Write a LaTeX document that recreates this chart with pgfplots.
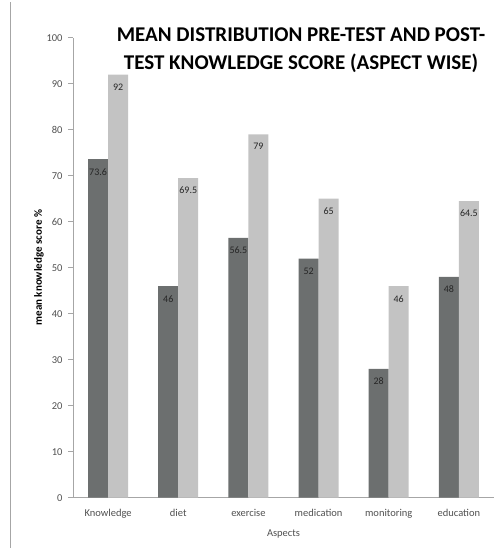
\documentclass[border=0pt]{standalone}
\usepackage{pgfplots}
\pgfplotsset{compat=1.18}
\usepackage{fontspec}
\setmainfont{Carlito}
\definecolor{darkbar}{HTML}{6C6F6F}
\definecolor{lightbar}{HTML}{C3C3C3}
\definecolor{axisgray}{HTML}{A6A6A6}
\definecolor{ticktext}{HTML}{505050}
\begin{document}
\begin{tikzpicture}[x=1pt,y=1pt]
\path[use as bounding box] (0,0) rectangle (494,550);
\draw[axisgray, line width=0.8pt] (10,2) -- (10,548);
\begin{axis}[
  at={(73pt,52.3pt)}, anchor=south west,
  scale only axis, width=421pt, height=460pt,
  xmin=-0.5, xmax=5.5, ymin=0, ymax=100,
  ybar=0pt, bar width=20pt,
  axis x line*=bottom, axis y line*=left,
  axis line style={axisgray, line width=0.8pt},
  ytick={0,10,...,100},
  xtick={0,...,5},
  xticklabels={Knowledge,diet,exercise,medication,monitoring,education},
  x tick style={draw=none},
  extra x ticks={-0.5,0.5,1.5,2.5,3.5,4.5,5.5},
  extra x tick labels={},
  extra x tick style={tick style={draw=axisgray, line width=0.8pt}, major tick length=5pt, tick align=outside},
  y tick style={draw=axisgray, line width=0.8pt},
  tick align=outside, major tick length=5pt,
  tick label style={font=\fontsize{10.5}{12}\selectfont, text=ticktext},
  yticklabel style={xshift=-2pt},
  xticklabel style={yshift=-3pt},
  /pgf/number format/assume math mode=true,
  xlabel={Aspects},
  xlabel style={font=\fontsize{10.5}{12}\selectfont, text=ticktext, yshift=5pt},
  ylabel={\textbf{mean knowledge score \%}},
  ylabel style={font=\fontsize{11}{12}\selectfont, text=black, yshift=-4pt},
  nodes near coords,
  every node near coord/.append style={anchor=north, yshift=-8pt, font=\fontsize{10}{12}\selectfont, text=black!85, inner sep=1pt},
  /pgf/number format/.cd, fixed, precision=1,
]
\addplot[fill=darkbar, draw=none] coordinates {(0,73.6) (1,46) (2,56.5) (3,52) (4,28) (5,48)};
\addplot[fill=lightbar, draw=none] coordinates {(0,92) (1,69.5) (2,79) (3,65) (4,46) (5,64.5)};
\end{axis}
\node[font=\fontsize{21}{27.5}\selectfont\bfseries, align=center, anchor=north] at (301,525.5) {MEAN DISTRIBUTION PRE-TEST AND POST-\\TEST KNOWLEDGE SCORE (ASPECT WISE)};
\end{tikzpicture}
\end{document}
